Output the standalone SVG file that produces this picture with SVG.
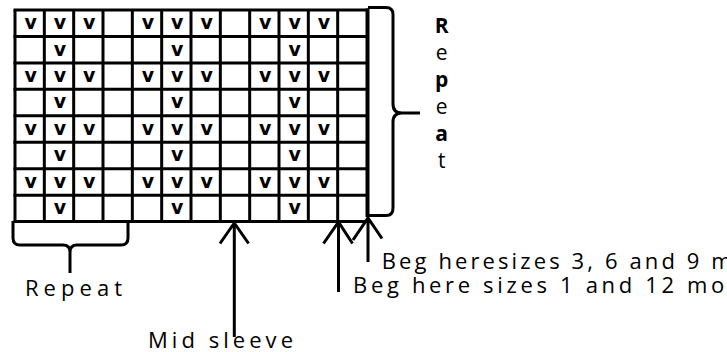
<svg xmlns="http://www.w3.org/2000/svg" width="727" height="352" viewBox="0 0 727 352">
<style>
.grid line{stroke:#000;stroke-width:3}
.v{font-family:"DejaVu Sans",sans-serif;font-weight:bold;font-size:19px;fill:#000;text-anchor:middle}
.lbl{font-family:"Open Sans","DejaVu Sans",sans-serif;font-size:22px;fill:#000}
.vt{font-family:"Open Sans","DejaVu Sans",sans-serif;font-size:21px;fill:#000;text-anchor:middle}
.b{font-weight:bold}
.stk{fill:none;stroke:#000;stroke-width:3}
.arr{fill:none;stroke:#000;stroke-width:3;stroke-linejoin:miter}
</style>
<rect width="727" height="352" fill="#fff"/>
<g id="chart" class="grid">
<line x1="13.5" y1="10" x2="368.5" y2="10"/>
<line x1="13.5" y1="36.45" x2="368.5" y2="36.45"/>
<line x1="13.5" y1="62.9" x2="368.5" y2="62.9"/>
<line x1="13.5" y1="89.35" x2="368.5" y2="89.35"/>
<line x1="13.5" y1="115.8" x2="368.5" y2="115.8"/>
<line x1="13.5" y1="142.25" x2="368.5" y2="142.25"/>
<line x1="13.5" y1="168.7" x2="368.5" y2="168.7"/>
<line x1="13.5" y1="195.15" x2="368.5" y2="195.15"/>
<line x1="13.5" y1="221.6" x2="368.5" y2="221.6"/>
<line x1="15" y1="10" x2="15" y2="221.6"/>
<line x1="44.33" y1="10" x2="44.33" y2="221.6"/>
<line x1="73.67" y1="10" x2="73.67" y2="221.6"/>
<line x1="103" y1="10" x2="103" y2="221.6"/>
<line x1="132.33" y1="10" x2="132.33" y2="221.6"/>
<line x1="161.67" y1="10" x2="161.67" y2="221.6"/>
<line x1="191" y1="10" x2="191" y2="221.6"/>
<line x1="220.33" y1="10" x2="220.33" y2="221.6"/>
<line x1="249.67" y1="10" x2="249.67" y2="221.6"/>
<line x1="279" y1="10" x2="279" y2="221.6"/>
<line x1="308.33" y1="10" x2="308.33" y2="221.6"/>
<line x1="337.67" y1="10" x2="337.67" y2="221.6"/>
<line x1="367.5" y1="8.5" x2="367.5" y2="217" style="stroke-width:4"/>
<text class="v" x="30.7 60 89.3 148 177.3 206.7 265.3 294.7 324" y="29">vvvvvvvvv</text>
<text class="v" x="60 177.3 294.7" y="55.5">vvv</text>
<text class="v" x="30.7 60 89.3 148 177.3 206.7 265.3 294.7 324" y="82">vvvvvvvvv</text>
<text class="v" x="60 177.3 294.7" y="108.4">vvv</text>
<text class="v" x="30.7 60 89.3 148 177.3 206.7 265.3 294.7 324" y="134.9">vvvvvvvvv</text>
<text class="v" x="60 177.3 294.7" y="161.3">vvv</text>
<text class="v" x="30.7 60 89.3 148 177.3 206.7 265.3 294.7 324" y="187.8">vvvvvvvvv</text>
<text class="v" x="60 177.3 294.7" y="214.2">vvv</text>
</g>
<g id="brace-right">
<path class="stk" d="M368 7.5 L386 7.5 Q393 7.5 393 14.5 L393 104 Q393 113 402 113 L420 113 M402 113 Q393 113 393 122 L393 208 Q393 215.5 386 215.5 L368 215.5"/>
</g>
<g id="label-repeat-vertical">
<text class="vt b" x="441.7" y="33">R</text>
<text class="vt" x="441.7" y="60">e</text>
<text class="vt b" x="441.7" y="87">p</text>
<text class="vt" x="441.7" y="114">e</text>
<text class="vt b" x="441.7" y="141">a</text>
<text class="vt" x="441.7" y="168">t</text>
</g>
<g id="bracket-repeat">
<path class="stk" d="M13 221 L13 238 Q13 245 20 245 L63 245 Q70 245 70 252 L70 273 M70 252 Q70 245 77 245 L121 245 Q128 245 128 238 L128 221"/>
<text class="lbl" x="25" y="296" textLength="97">Repeat</text>
</g>
<g id="label-mid-sleeve">
<text class="lbl" x="148" y="348" textLength="145">Mid sleeve</text>
</g>
<g id="label-beg-3-6-9">
<text class="lbl" x="381.7" y="269" textLength="350">Beg heresizes 3, 6 and 9 m</text>
</g>
<g id="label-beg-1-12">
<text class="lbl" x="353" y="293" textLength="384">Beg here sizes 1 and 12 mor</text>
</g>
<g id="connectors">
<path class="arr" d="M234.3 223 L234.3 337 M220 243.5 L234.3 223 L248.6 243.5"/>
<path class="arr" d="M338.5 222 L338.5 292 M323.5 243.5 L338.5 222 L352.5 243.5"/>
<path class="arr" d="M368 218 L368 262 M353 240 L368 218 L382 238.5"/>
</g>
</svg>
